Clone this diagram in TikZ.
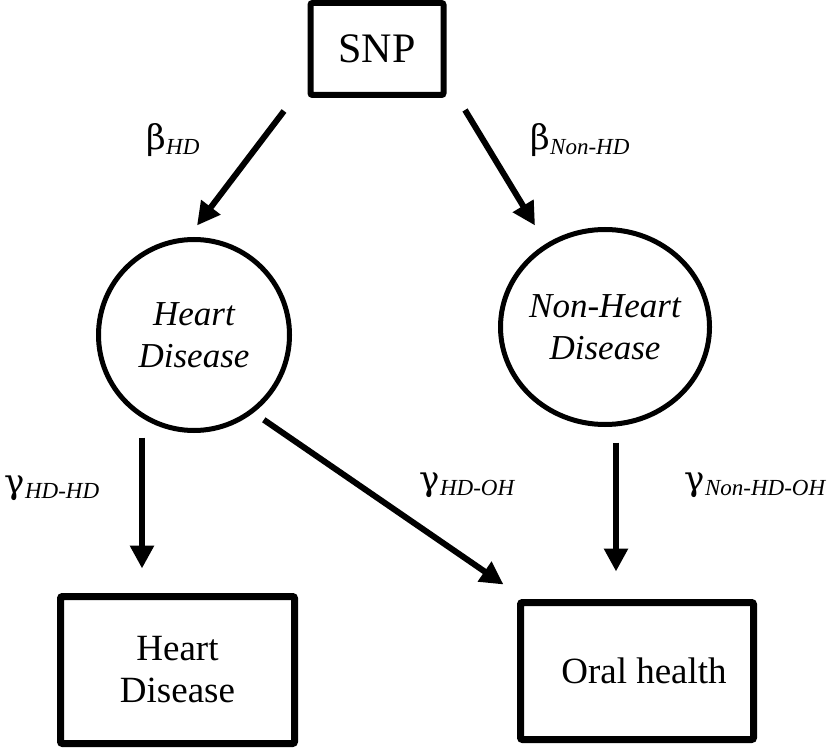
\documentclass[tikz,border=0pt]{standalone}
\usepackage{fontspec}
\setmainfont{Liberation Serif}
\newfontfamily\grkfont{DejaVu Serif}
\usetikzlibrary{arrows.meta,shapes.geometric}
\newcommand{\coefl}[2]{{\grkfont\fontsize{17}{20}\selectfont #1}\raisebox{-2.5pt}{\fontsize{11.5}{13}\selectfont\itshape #2}}

\begin{document}
\begin{tikzpicture}[x=0.5pt,y=0.5pt,
    box/.style={draw,line width=3.5pt,rounded corners=1pt,align=center,font=\fontsize{18.5}{21}\selectfont},
    blob/.style={draw,ellipse,line width=2.5pt,align=center,inner sep=-8pt,font=\fontsize{17.5}{21}\selectfont\itshape},
    arr/.style={line width=3pt,-{Triangle[length=11.5pt,width=11.5pt]}}]
  \useasboundingbox (0,0) rectangle (833,750);

  % nodes
  \node[box,line width=3pt,minimum width=66.5pt,minimum height=46pt,font=\fontsize{21}{24}\selectfont] (SNP) at (377,701) {SNP};
  \node[blob,minimum width=95.5pt,minimum height=95.5pt] (HD) at (194,415) {Heart\\Disease};
  \node[blob,minimum width=104.5pt,minimum height=97.5pt] (NHD) at (605,423) {Non-Heart\\Disease};
  \node[box,minimum width=117pt,minimum height=73.5pt] (HDout) at (177.5,80) {Heart\\Disease};
  \node[box,minimum width=116.5pt,minimum height=68.5pt] (OH) at (637,79) {\hspace*{7pt}Oral health};

  % coefficients
  \node (bHD) at (173,610) {\coefl{β}{HD}};
  \node (bNHD) at (580,610) {\coefl{β}{Non-HD}};
  \node (gHDHD) at (52,262) {\coefl{γ}{HD-HD}};
  \node (gHDOH) at (467,265) {\coefl{γ}{HD-OH}};
  \node (gNHDOH) at (755,265) {\coefl{γ}{Non-HD-OH}};

  % arrows
  \draw[arr] ([shift={(-23.5,-13)}]SNP.south west) -- ([shift={(3,11.5)}]HD.north);
  \draw[arr] ([shift={(18.5,-12)}]SNP.south east) -- ([shift={(-70,1.5)}]NHD.north);
  \draw[arr] ([shift={(-52,-4.5)}]HD.south) -- ([shift={(-35.5,24.5)}]HDout.north);
  \draw[arr] ([shift={(0.5,-15.5)}]HD.south east) -- ([shift={(-13.5,14.5)}]OH.north west);
  \draw[arr] ([shift={(11,-15.5)}]NHD.south) -- ([shift={(-21,27.5)}]OH.north);
\end{tikzpicture}
\end{document}
